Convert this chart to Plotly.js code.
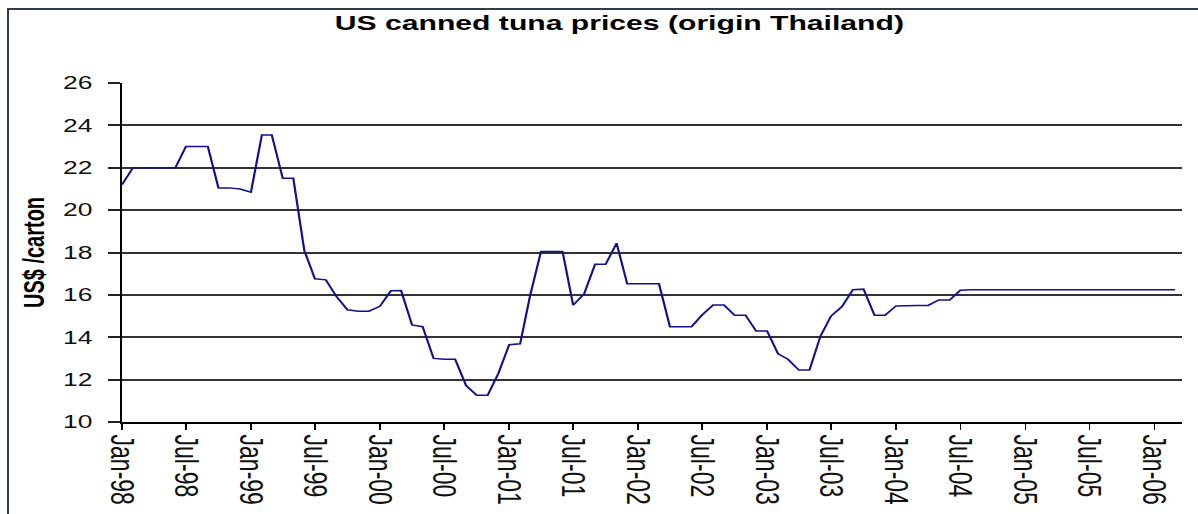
<!DOCTYPE html>
<html>
<head>
<meta charset="utf-8">
<script src="https://cdn.plot.ly/plotly-3.0.1.min.js"></script>
<style>
html, body { margin: 0; padding: 0; background: #fff; overflow: hidden; width: 1198px; height: 514px; }
#wrap { position: absolute; left: 0; top: 0; width: 815px; height: 514px; transform: scaleX(1.46994); transform-origin: 0 0; }
#frame { position: absolute; left: 7px; top: 8px; width: 1300px; height: 700px; border-left: 2px solid #2b3e50; border-top: 2px solid #2b3e50; pointer-events: none; }
</style>
</head>
<body>
<div id="wrap"><div id="chart"></div></div>
<div id="frame"></div>
<script>
// Monthly US canned tuna prices (origin Thailand), US$ per carton, Jan-98 .. Mar-06
const firstYear = 1998;
const priceUSD = [
  21.2, 22.0, 22.0, 22.0, 22.0, 22.0, 23.0, 23.0, 23.0, 21.05, 21.05, 21.0,   // 1998
  20.85, 23.55, 23.55, 21.5, 21.5, 18.1, 16.76, 16.71, 15.9, 15.3, 15.23, 15.23, // 1999
  15.46, 16.19, 16.2, 14.58, 14.5, 13.0, 12.96, 12.96, 11.72, 11.26, 11.26, 12.28, // 2000
  13.65, 13.69, 15.95, 18.05, 18.05, 18.05, 15.52, 16.05, 17.44, 17.44, 18.44, 16.52, // 2001
  16.52, 16.52, 16.52, 14.5, 14.5, 14.5, 15.05, 15.52, 15.52, 15.04, 15.04, 14.29, // 2002
  14.29, 13.22, 12.96, 12.45, 12.45, 14.05, 15.0, 15.45, 16.24, 16.27, 15.04, 15.04, // 2003
  15.48, 15.5, 15.5, 15.5, 15.76, 15.76, 16.22, 16.24, 16.24, 16.24, 16.24, 16.24, // 2004
  16.24, 16.24, 16.24, 16.24, 16.24, 16.24, 16.24, 16.24, 16.24, 16.24, 16.24, 16.24, // 2005
  16.24, 16.24, 16.24                                                             // 2006
];
const months = priceUSD.map((_, i) => {
  const y = firstYear + Math.floor(i / 12);
  const m = (i % 12) + 1;
  return y + '-' + String(m).padStart(2, '0') + '-01';
});
const chartTitle = 'US canned tuna prices (origin Thailand)';
const yTitle = 'US$ /carton';
const yRange = [10, 26];
const xRange = ['1998-01-01', '2006-03-20'];

const fontFamily = '"Liberation Sans", Arial, Helvetica, sans-serif';

const trace = {
  x: months,
  y: priceUSD,
  type: 'scatter',
  mode: 'lines',
  line: { color: '#12128a', width: 1.5 },
  hoverinfo: 'skip'
};

const layout = {
  width: 815,
  height: 514,
  margin: { l: 83, r: 11, t: 83, b: 92 },
  paper_bgcolor: '#ffffff',
  plot_bgcolor: '#ffffff',
  font: { family: fontFamily, color: '#000' },
  showlegend: false,
  title: {
    text: '<b>' + chartTitle + '</b>',
    font: { family: fontFamily, size: 20.5, color: '#000' },
    x: 0.517, xref: 'container', xanchor: 'center',
    y: 1 - 23 / 514, yref: 'container', yanchor: 'middle'
  },
  xaxis: {
    type: 'date',
    range: xRange,
    tick0: '1998-01-01',
    dtick: 'M6',
    tickformat: '%b-%y',
    tickangle: 90,
    ticks: 'outside',
    ticklen: 6,
    tickwidth: 1,
    tickcolor: '#000',
    showline: true,
    linecolor: '#000',
    linewidth: 2,
    showgrid: false,
    zeroline: false,
    tickfont: { family: fontFamily, size: 23, color: '#111' }
  },
  yaxis: {
    range: yRange,
    tick0: 10,
    dtick: 2,
    ticks: 'outside',
    ticklen: 8,
    tickwidth: 2,
    tickcolor: '#222',
    ticklabelstandoff: 7,
    showline: true,
    linecolor: '#000',
    linewidth: 1.5,
    showgrid: true,
    gridcolor: '#333',
    gridwidth: 2,
    zeroline: false,
    tickfont: { family: fontFamily, size: 18, color: '#111' },
    title: {
      text: '<b>' + yTitle + '</b>',
      font: { family: fontFamily, size: 20, color: '#000' },
      standoff: 7
    }
  }
};

Plotly.newPlot('chart', [trace], layout, { displayModeBar: false, staticPlot: true });
</script>
</body>
</html>
